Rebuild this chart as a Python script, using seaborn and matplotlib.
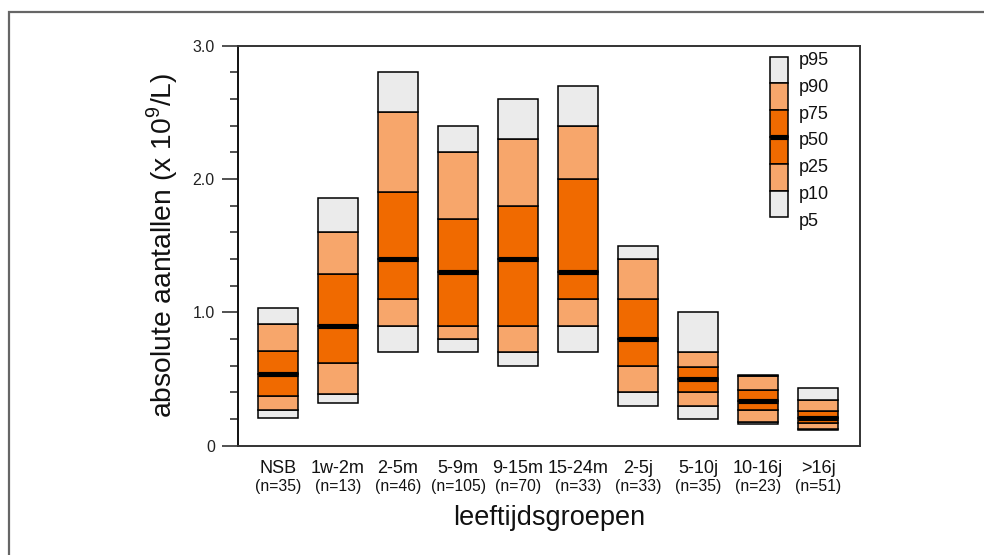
import numpy as np
import matplotlib
matplotlib.use("Agg")
import matplotlib.pyplot as plt
import seaborn as sns
from matplotlib.patches import Rectangle
from matplotlib.ticker import FixedLocator, MultipleLocator

categories = ["NSB", "1w-2m", "2-5m", "5-9m", "9-15m", "15-24m", "2-5j", "5-10j", "10-16j", ">16j"]
n_labels = ["(n=35)", "(n=13)", "(n=46)", "(n=105)", "(n=70)", "(n=33)", "(n=33)", "(n=35)", "(n=23)", "(n=51)"]
p5 = [0.205, 0.32, 0.70, 0.70, 0.60, 0.70, 0.30, 0.20, 0.16, 0.115]
p10 = [0.27, 0.39, 0.90, 0.80, 0.70, 0.90, 0.40, 0.30, 0.18, 0.125]
p25 = [0.375, 0.62, 1.10, 0.90, 0.90, 1.10, 0.60, 0.40, 0.268, 0.168]
p50 = [0.54, 0.90, 1.40, 1.30, 1.40, 1.30, 0.80, 0.50, 0.335, 0.21]
p75 = [0.71, 1.29, 1.90, 1.70, 1.80, 2.00, 1.10, 0.59, 0.42, 0.263]
p90 = [0.91, 1.60, 2.50, 2.20, 2.30, 2.40, 1.40, 0.70, 0.52, 0.34]
p95 = [1.035, 1.86, 2.80, 2.40, 2.60, 2.70, 1.50, 1.00, 0.53, 0.43]
legend_labels = ["p95", "p90", "p75", "p50", "p25", "p10", "p5"]
yticks = [0, 1, 2, 3]
ytick_labels = ["0", "1.0", "2.0", "3.0"]

GREY = "#EBEBEB"
LIGHT = "#F7A66B"
ORANGE = "#F06A00"

sns.set_theme(style="white")
plt.rcParams["font.family"] = ["Liberation Sans", "DejaVu Sans"]
plt.rcParams["mathtext.fontset"] = "custom"
plt.rcParams["mathtext.rm"] = "Liberation Sans"

fig = plt.figure(figsize=(9.84, 5.55), dpi=100)
ax = fig.add_axes([0.2416, 0.197, 0.6326, 0.7207])

width = 0.667
segments = [
    (p5, p10, GREY),
    (p10, p25, LIGHT),
    (p25, p50, ORANGE),
    (p50, p75, ORANGE),
    (p75, p90, LIGHT),
    (p90, p95, GREY),
]
for lo, hi, col in segments:
    lo = np.asarray(lo)
    hi = np.asarray(hi)
    sns.barplot(x=categories, y=hi - lo, bottom=lo, color=col, saturation=1,
                width=width, edgecolor="black", linewidth=1.1, errorbar=None, ax=ax)

xs = np.arange(len(categories))
ax.hlines(p50, xs - width / 2, xs + width / 2, color="black", linewidth=3.7, zorder=5)

ax.set_xlim(-0.67, 9.7)
ax.set_ylim(0, 3.0)

# y ticks
ax.yaxis.set_major_locator(FixedLocator(yticks))
ax.set_yticklabels(ytick_labels, fontsize=11.5, color="#222222")
ax.yaxis.set_minor_locator(MultipleLocator(0.2))
ax.tick_params(axis="y", which="major", direction="out", length=11.5, width=1.1,
               color="#222222", pad=5, left=True)
ax.tick_params(axis="y", which="minor", direction="out", length=5.8, width=1.1,
               color="#222222", left=True)

# x labels
ax.set_xticks(xs)
ax.set_xticklabels([])
ax.tick_params(axis="x", length=0)
trans = ax.get_xaxis_transform()
for x, name, nl in zip(xs, categories, n_labels):
    ax.text(x, -0.056, name, transform=trans, ha="center", va="center", fontsize=13, color="#111111")
    ax.text(x, -0.101, nl, transform=trans, ha="center", va="center", fontsize=11.3, color="#111111")

ax.set_xlabel("")
ax.text(0.5, -0.181, "leeftijdsgroepen", transform=ax.transAxes, ha="center", va="center",
        fontsize=19.5, color="#111111")
ax.set_ylabel(r"absolute aantallen (x 10$^{\mathregular{9}}$/L)", fontsize=20.3, color="#111111", labelpad=9)

for s in ax.spines.values():
    s.set_visible(True)
    s.set_color("#333333")
    s.set_linewidth(1.4)
ax.spines["left"].set_color("#111111")

# legend drawn as a stacked bar in axes coordinates
lx0, lw = 0.8543, 0.0304
ltop, lbot = 0.9725, 0.571
seg_h = (ltop - lbot) / 6
leg_cols = [GREY, LIGHT, ORANGE, ORANGE, LIGHT, GREY]
for i, c in enumerate(leg_cols):
    y0 = ltop - (i + 1) * seg_h
    ax.add_patch(Rectangle((lx0, y0), lw, seg_h, transform=ax.transAxes, facecolor=c,
                           edgecolor="black", linewidth=1.1, zorder=6))
ax.plot([lx0, lx0 + lw], [ltop - 3 * seg_h] * 2, transform=ax.transAxes, color="black",
        linewidth=3.7, zorder=7, solid_capstyle="butt")
for i, lab in enumerate(legend_labels):
    ax.text(lx0 + lw + 0.0165, ltop - i * seg_h - 0.01, lab, transform=ax.transAxes,
            ha="left", va="center", fontsize=13, color="#111111")

# outer figure border
fig.patches.append(Rectangle((9 / 984, -0.1), 1.2, 1.1 - 12 / 555, transform=fig.transFigure,
                             fill=False, edgecolor="#666666", linewidth=1.6, clip_on=False))

fig.savefig("out.png", dpi=100)
